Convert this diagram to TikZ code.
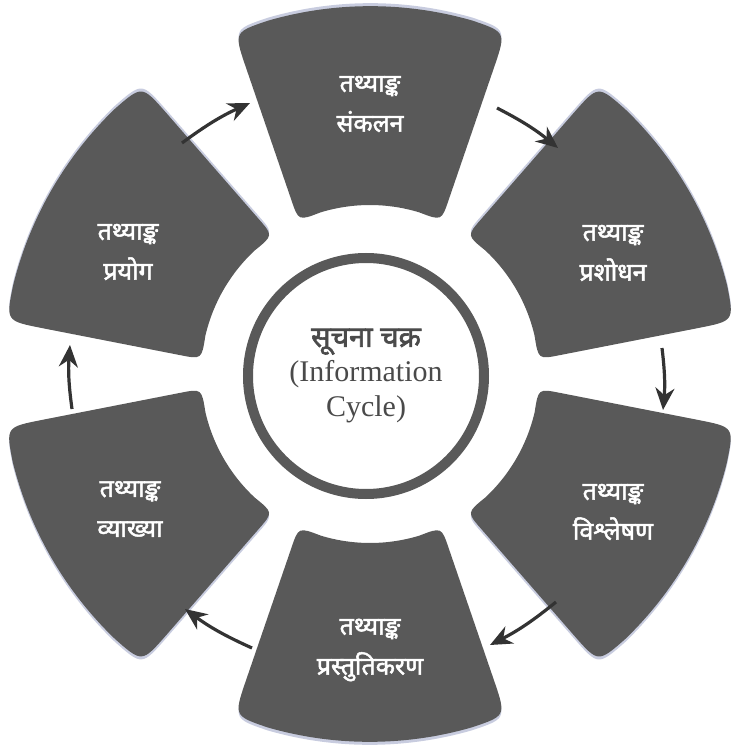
\documentclass[tikz,border=0pt]{standalone}
\usepackage{fontspec}
\setmainfont{Liberation Serif}
\newfontfamily\devfont[Script=Devanagari, FakeBold=2]{Noto Sans}
\usetikzlibrary{arrows.meta}
\definecolor{segcol}{HTML}{595959}
\definecolor{rimcol}{HTML}{C8CCDF}
\definecolor{arrcol}{HTML}{333333}
\definecolor{txtcol}{HTML}{4A4A4A}
\tikzset{
seg/.style={fill=segcol}, % dark sector
rim/.style={fill=rimcol}, % light edge behind each sector
label/.style={text=white, align=center, font=\devfont\fontsize{25}{40}\selectfont},
cyc/.style={arrcol, line width=3.2pt, -{Stealth[length=22pt, width=19pt]}},
}
% one sector, pointing up, centre of the cycle at the origin
\newcommand\segshape{(124.3,307.2) .. controls (136.1,341.9) .. (102.4,353.4)
    arc[start angle=73.9, end angle=106.1, radius=368pt]
    .. controls (-136.1,341.9) .. (-124.3,307.2)
    -- (-78.6,173.9)
    .. controls (-71.5,153.1) .. (-49.5,161.6)
    arc[start angle=107.0, end angle=73.0, radius=169pt]
    .. controls (71.5,153.1) .. (78.6,173.9) -- cycle}

\begin{document}
\begin{tikzpicture}[x=1pt, y=1pt]
    \useasboundingbox (-370,-373) rectangle (367,374);
    \foreach \r/\s in {0/3, -60/3, -120/-3, 180/-3, 120/-3, 60/3}{
        \fill[rim, yshift=\s, rotate=\r] \segshape;
        \fill[seg, rotate=\r] \segshape;
    }
    \node[label] (s1) at (0,270) {तथ्याङ्क\\संकलन};
    \node[label] (s2) at (243,121) {तथ्याङ्क\\प्रशोधन};
    \node[label] (s3) at (243,-138) {तथ्याङ्क\\विश्लेषण};
    \node[label] (s4) at (0,-276) {तथ्याङ्क\\प्रस्तुतिकरण};
    \node[label] (s5) at (-240,-135) {तथ्याङ्क\\व्याख्या};
    \node[label] (s6) at (-242,122) {तथ्याङ्क\\प्रयोग};
    \node[circle, draw=segcol, line width=10pt, minimum size=236pt,
          text=txtcol, align=center, font=\fontsize{30}{35}\selectfont] (c) at (-4,-2)
          {{\devfont\fontsize{29}{35}\selectfont सूचना चक्र}\\(Information\\Cycle)};
    % arrows in the gaps
    \coordinate (t1) at (127,266);   \coordinate (h1) at (188,226);
    \coordinate (t2) at (292,26);    \coordinate (h2) at (293,-36);
    \coordinate (t3) at (186,-228);  \coordinate (h3) at (120,-271);
    \coordinate (t4) at (-118,-274); \coordinate (h4) at (-185,-235);
    \coordinate (t5) at (-298,-35);  \coordinate (h5) at (-300,29);
    \coordinate (t6) at (-188,231);  \coordinate (h6) at (-120,271);
    \foreach \i in {1,...,6}
        \draw[cyc] (t\i) to[bend left=6] (h\i);
\end{tikzpicture}
\end{document}
